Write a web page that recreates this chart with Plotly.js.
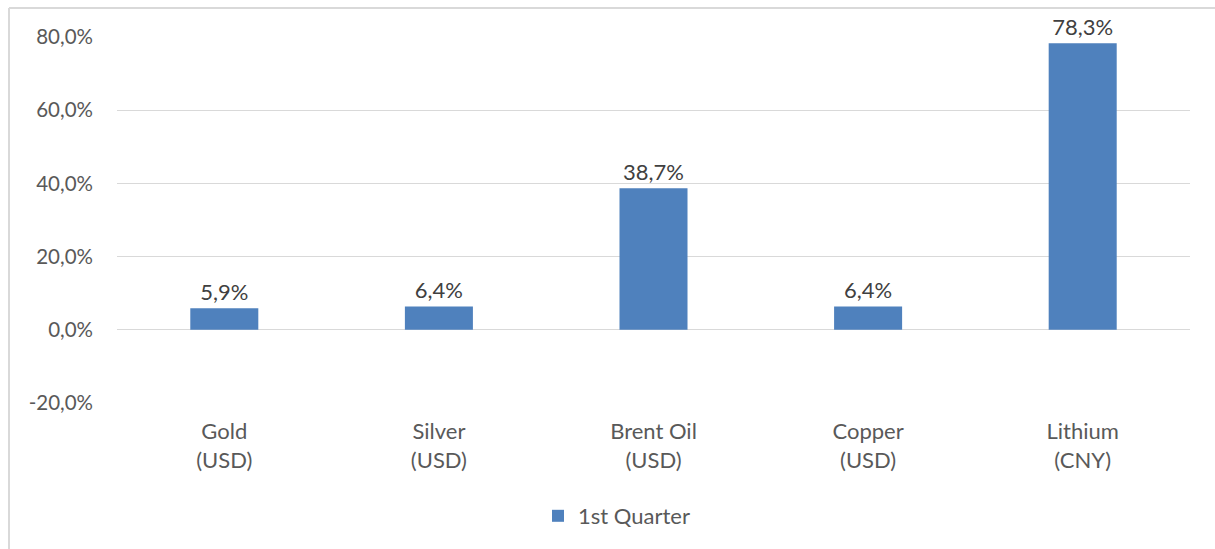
<!DOCTYPE html>
<html><head><meta charset="utf-8">
<script src="https://cdn.plot.ly/plotly-3.0.1.min.js"></script>
<style>html,body{margin:0;padding:0;background:#fff;}#chart{width:1215px;height:549px;}</style>
</head><body><div id="chart"></div>
<script>
const categories = ["Gold<br>(USD)", "Silver<br>(USD)", "Brent Oil<br>(USD)", "Copper<br>(USD)", "Lithium<br>(CNY)"];
const seriesName = "1st Quarter";
const values = [5.9, 6.4, 38.7, 6.4, 78.3];
const tickValues = [-20, 0, 20, 40, 60, 80];
const tickLabels = ["-20,0%", "0,0%", "20,0%", "40,0%", "60,0%", "80,0%"];

const W = 1215, H = 549, L = 117, R = 25, T = 37, B = 146;
const pw = W - L - R, ph = H - T - B;
const px = x => (x - L) / pw;
const py = y => (H - B - y) / ph;
const font = "Lato, 'Open Sans', sans-serif";
const fs = 20.5, fl = 22;

Plotly.newPlot("chart", [{
  type: "bar",
  x: categories,
  y: values,
  name: seriesName,
  marker: {color: "#4F81BD"},
  text: values.map(v => v.toFixed(1).replace(".", ",") + "%"),
  textposition: "outside",
  textfont: {family: font, size: fl, color: "#404040"},
  cliponaxis: false,
  showlegend: true
}], {
  width: W, height: H,
  margin: {l: L, r: R, t: T, b: B},
  paper_bgcolor: "#fff", plot_bgcolor: "#fff",
  separators: ",.",
  bargap: 0.683,
  font: {family: font, size: fs, color: "#595959"},
  xaxis: {showgrid: false, zeroline: false, showline: false, ticks: "", ticklabelstandoff: 13, tickfont: {size: fl, color: "#595959"}, fixedrange: true},
  yaxis: {range: [-20, 80], tickvals: tickValues, ticktext: tickLabels, showgrid: true, gridcolor: "#D9D9D9", gridwidth: 1.3,
          zeroline: true, zerolinecolor: "#D9D9D9", zerolinewidth: 1.3, showline: false, ticks: "", ticklen: 0, automargin: false,
          ticklabelstandoff: 23, tickfont: {size: fs, color: "#595959"}},
  showlegend: true,
  legend: {orientation: "h", x: px(538), xanchor: "left", y: py(516), yanchor: "middle", font: {size: fl, color: "#595959"}, itemwidth: 30},
  shapes: [
    {type: "line", xref: "paper", yref: "paper", x0: px(9), x1: px(9), y0: py(8), y1: py(560), line: {color: "#D9D9D9", width: 2}},
    {type: "line", xref: "paper", yref: "paper", x0: px(9), x1: px(1230), y0: py(8), y1: py(8), line: {color: "#D9D9D9", width: 2}}
  ]
}, {displayModeBar: false, staticPlot: true});
</script></body></html>
